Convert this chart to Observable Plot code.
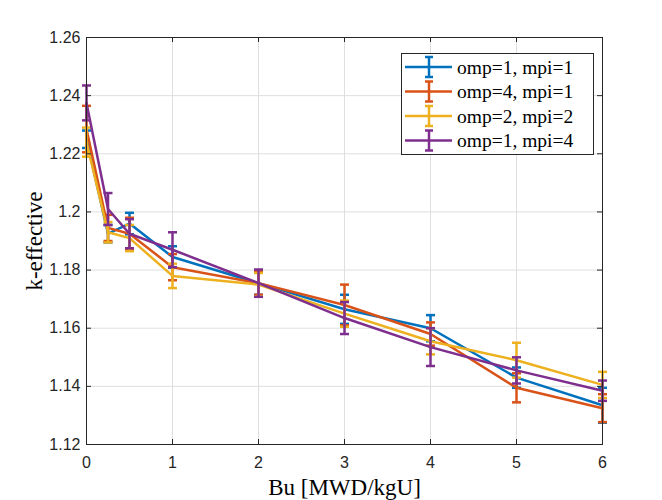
<!DOCTYPE html>
<html><head><meta charset="utf-8">
<script src="https://cdn.jsdelivr.net/npm/d3@7"></script>
<script src="https://cdn.jsdelivr.net/npm/@observablehq/plot@0.6"></script>
<style>
body{margin:0;background:#fff}
#wrap{position:relative;width:662px;height:500px;background:#fff}
</style>
</head><body><div id="wrap"></div>
<script>
// ---- data ----
const bu = [0, 0.25, 0.5, 1, 2, 3, 4, 5, 6];
const seriesNames = ["omp=1, mpi=1", "omp=4, mpi=1", "omp=2, mpi=2", "omp=1, mpi=4"];
const seriesColors = ["#0072BD", "#D95319", "#EDB120", "#7E2F8E"];
const keff1 = [1.2250, 1.1925, 1.1960, 1.1845, 1.1755, 1.1665, 1.1600, 1.1430, 1.1335];
const err1  = [0.0030, 0.0030, 0.0037, 0.0037, 0.0040, 0.0050, 0.0045, 0.0035, 0.0060];
const keff2 = [1.2285, 1.1945, 1.1925, 1.1810, 1.1755, 1.1680, 1.1580, 1.1395, 1.1325];
const err2  = [0.0080, 0.0045, 0.0055, 0.0045, 0.0040, 0.0070, 0.0040, 0.0050, 0.0048];
const keff3 = [1.2240, 1.1930, 1.1910, 1.1780, 1.1750, 1.1650, 1.1555, 1.1490, 1.1405];
const err3  = [0.0050, 0.0035, 0.0045, 0.0042, 0.0040, 0.0045, 0.0045, 0.0060, 0.0045];
const keff4 = [1.2375, 1.2010, 1.1925, 1.1870, 1.1755, 1.1635, 1.1535, 1.1455, 1.1385];
const err4  = [0.0060, 0.0055, 0.0050, 0.0060, 0.0047, 0.0055, 0.0065, 0.0045, 0.0035];
const xTicks = [0, 1, 2, 3, 4, 5, 6];
const xTickLabels = ["0", "1", "2", "3", "4", "5", "6"];
const yTicks = [1.12, 1.14, 1.16, 1.18, 1.2, 1.22, 1.24, 1.26];
const yTickLabels = ["1.12", "1.14", "1.16", "1.18", "1.2", "1.22", "1.24", "1.26"];
const xLabel = "Bu [MWD/kgU]";
const yLabel = "k-effective";

// ---- build ----
const keffs = [keff1, keff2, keff3, keff4];
const errs = [err1, err2, err3, err4];
const W = 662, H = 500;
const mL = 86, mR = 60, mT = 37, mB = 56;
const pw = W - mL - mR, ph = H - mT - mB;
const axisColor = "#262626";
const lw = 2.5;

const capSymbol = {
  draw(ctx, size) {
    const r = Math.sqrt(size / Math.PI);
    ctx.moveTo(-r, 0); ctx.lineTo(r, 0);
  }
};

const marks = [
  Plot.gridX(xTicks, {stroke: "#dfdfdf", strokeOpacity: 1}),
  Plot.gridY(yTicks, {stroke: "#dfdfdf", strokeOpacity: 1}),
];

seriesNames.forEach((s, i) => {
  const rows = bu.map((x, j) => ({x, k: keffs[i][j], e: errs[i][j]}));
  const c = seriesColors[i];
  marks.push(
    Plot.line(rows, {x: "x", y: "k", stroke: c, strokeWidth: lw, strokeLinejoin: "round"}),
    Plot.ruleX(rows, {x: "x", y1: d => d.k - d.e, y2: d => d.k + d.e, stroke: c, strokeWidth: lw}),
    Plot.dot(rows, {x: "x", y: d => d.k + d.e, symbol: capSymbol, r: 4.5, stroke: c, strokeWidth: lw, fill: "none"}),
    Plot.dot(rows, {x: "x", y: d => d.k - d.e, symbol: capSymbol, r: 4.5, stroke: c, strokeWidth: lw, fill: "none"})
  );
});

marks.push(
  Plot.tickY(yTicks, {y: d => d, insetRight: pw - 5, stroke: axisColor}),
  Plot.tickY(yTicks, {y: d => d, insetLeft: pw - 5, stroke: axisColor}),
  Plot.tickX(xTicks, {x: d => d, insetTop: ph - 5, stroke: axisColor}),
  Plot.tickX(xTicks, {x: d => d, insetBottom: ph - 5, stroke: axisColor}),
  Plot.frame({stroke: axisColor, strokeWidth: 1}),
  Plot.axisX(xTicks, {tickSize: 0, tickPadding: 12, tickFormat: (d, i) => xTickLabels[i], fontSize: 16, label: null}),
  Plot.axisY(yTicks, {tickSize: 0, tickPadding: 6, tickFormat: (d, i) => yTickLabels[i], fontSize: 16, label: null}),
  Plot.text([xLabel], {frameAnchor: "bottom", dy: 43, lineAnchor: "middle", textAnchor: "middle", fontSize: 23, fontFamily: "Liberation Serif", fill: "#000"}),
  Plot.text([yLabel], {frameAnchor: "left", dx: -52, rotate: -90, textAnchor: "middle", lineAnchor: "middle", fontSize: 23, fontFamily: "Liberation Serif", fill: "#000"})
);

const chart = Plot.plot({
  width: W, height: H,
  marginLeft: mL, marginRight: mR, marginTop: mT, marginBottom: mB,
  x: {domain: [0, 6]},
  y: {domain: [1.12, 1.26]},
  style: {fontFamily: "Liberation Sans", fontSize: "16px", color: axisColor, background: "#fff"},
  marks
});
const wrap = document.getElementById("wrap");
wrap.appendChild(chart);

// ---- legend ----
const lgW = 193, lgH = 102, rowH = 24.5, row0 = 14;
const lg = d3.create("svg").attr("width", lgW).attr("height", lgH)
  .style("position", "absolute").style("left", "401px").style("top", "53px");
lg.append("rect").attr("x", 0.5).attr("y", 0.5).attr("width", lgW - 1).attr("height", lgH - 1)
  .attr("fill", "#fff").attr("stroke", axisColor);
seriesNames.forEach((s, i) => {
  const g = lg.append("g").attr("transform", `translate(0,${row0 + i * rowH})`);
  const c = seriesColors[i];
  g.append("line").attr("x1", 4).attr("x2", 51).attr("y1", 0).attr("y2", 0).attr("stroke", c).attr("stroke-width", lw);
  g.append("line").attr("x1", 28).attr("x2", 28).attr("y1", -10).attr("y2", 10).attr("stroke", c).attr("stroke-width", lw);
  g.append("line").attr("x1", 24).attr("x2", 32).attr("y1", -10).attr("y2", -10).attr("stroke", c).attr("stroke-width", lw);
  g.append("line").attr("x1", 24).attr("x2", 32).attr("y1", 10).attr("y2", 10).attr("stroke", c).attr("stroke-width", lw);
  g.append("text").attr("x", 56).attr("y", 6.5).text(s)
    .attr("font-family", "Liberation Serif").attr("font-size", 19.5).attr("fill", "#000");
});
wrap.appendChild(lg.node());
</script></body></html>
